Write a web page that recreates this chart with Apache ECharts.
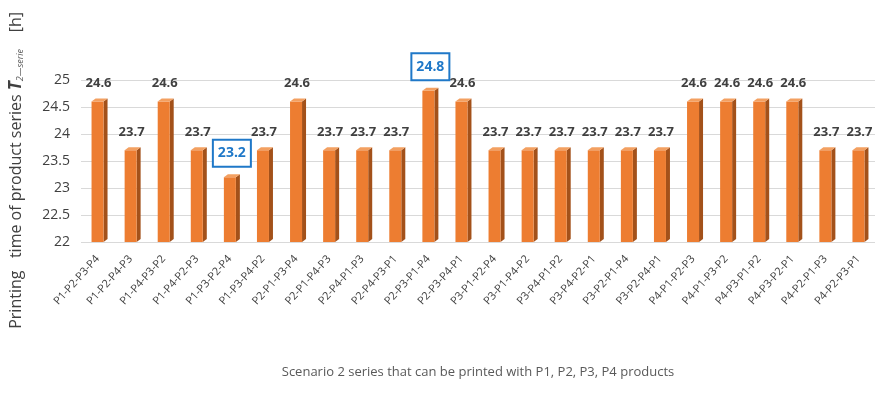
<!DOCTYPE html>
<html>
<head>
<meta charset="utf-8">
<script src="https://cdn.jsdelivr.net/npm/echarts@6/dist/echarts.min.js"></script>
<style>
  html, body { margin: 0; padding: 0; background: #fff; }
  #chart { width: 875px; height: 399px; }
</style>
</head>
<body>
<div id="chart"></div>
<script>
// series orders (x categories)
const categories = [
  'P1-P2-P3-P4', 'P1-P2-P4-P3', 'P1-P4-P3-P2', 'P1-P4-P2-P3', 'P1-P3-P2-P4', 'P1-P3-P4-P2',
  'P2-P1-P3-P4', 'P2-P1-P4-P3', 'P2-P4-P1-P3', 'P2-P4-P3-P1', 'P2-P3-P1-P4', 'P2-P3-P4-P1',
  'P3-P1-P2-P4', 'P3-P1-P4-P2', 'P3-P4-P1-P2', 'P3-P4-P2-P1', 'P3-P2-P1-P4', 'P3-P2-P4-P1',
  'P4-P1-P2-P3', 'P4-P1-P3-P2', 'P4-P3-P1-P2', 'P4-P3-P2-P1', 'P4-P2-P1-P3', 'P4-P2-P3-P1'
]

// printing time [h]
const printTimes = [
  24.6, 23.7, 24.6, 23.7, 23.2, 23.7,
  24.6, 23.7, 23.7, 23.7, 24.8, 24.6,
  23.7, 23.7, 23.7, 23.7, 23.7, 23.7,
  24.6, 24.6, 24.6, 24.6, 23.7, 23.7
]

const yMin = 22
const yMax = 25
const yStep = 0.5

const minVal = Math.min(...printTimes)
const maxVal = Math.max(...printTimes)

const textFont = '"Open Sans", "Noto Sans", sans-serif'

const chart = echarts.init(document.getElementById('chart'))

// 3D-looking column: front face, dark side, light top
const renderBar = (params, api) => {
  const idx = api.value(0)
  const val = api.value(1)
  const top = api.coord([idx, val])
  const base = api.coord([idx, yMin])
  const w = 12
  const dx = 4
  const dy = 3
  const x0 = top[0] - w / 2
  const x1 = x0 + w

  const isMark = val === minVal || val === maxVal
  const label = isMark
    ? {
        type: 'text',
        style: {
          text: val.toFixed(1),
          x: top[0] + 2,
          y: top[1] - 24,
          align: 'center',
          verticalAlign: 'middle',
          fill: '#1F78C8',
          font: 'bold 14px ' + textFont,
          backgroundColor: '#fff',
          borderColor: '#1F78C8',
          borderWidth: 2,
          padding: [6, 4, 5, 4]
        }
      }
    : {
        type: 'text',
        style: {
          text: val.toFixed(1),
          x: top[0] + 1,
          y: top[1] - 18,
          align: 'center',
          verticalAlign: 'middle',
          fill: '#404040',
          font: 'bold 13px ' + textFont
        }
      }

  return {
    type: 'group',
    children: [
      {
        type: 'polygon',
        shape: { points: [[x1, top[1]], [x1 + dx, top[1] - dy], [x1 + dx, base[1] - dy], [x1, base[1]]] },
        style: { fill: '#A3511A' }
      },
      {
        type: 'rect',
        shape: { x: x0, y: top[1], width: w, height: base[1] - top[1] },
        style: { fill: '#ED7D31' }
      },
      {
        type: 'polygon',
        shape: { points: [[x0, top[1]], [x0 + dx, top[1] - dy], [x1 + dx, top[1] - dy], [x1, top[1]]] },
        style: { fill: '#F3A061' }
      },
      label
    ]
  }
}

const option = {
  animation: false,
  backgroundColor: '#fff',
  grid: {
    left: 81,
    top: 80,
    width: 798,
    height: 162
  },
  xAxis: {
    type: 'category',
    data: categories,
    name: 'Scenario 2 series that can be printed with P1, P2, P3, P4 products',
    nameLocation: 'middle',
    nameGap: 124,
    nameTextStyle: {
      color: '#595959',
      fontSize: 13,
      fontFamily: textFont
    },
    axisLine: { show: false },
    axisTick: { show: false },
    axisLabel: {
      interval: 0,
      rotate: 48,
      margin: 15,
      color: '#404040',
      fontSize: 11,
      fontFamily: textFont
    }
  },
  yAxis: {
    type: 'value',
    min: yMin,
    max: yMax,
    interval: yStep,
    axisLine: { show: false },
    axisTick: { show: false },
    axisLabel: {
      margin: 11,
      color: '#404040',
      fontSize: 14,
      fontFamily: textFont
    },
    splitLine: {
      lineStyle: { color: '#D9D9D9', width: 1 }
    }
  },
  graphic: [
    {
      type: 'text',
      left: 8,
      top: 12,
      rotation: Math.PI / 2,
      style: {
        text: 'Printing   time of product series {it|T}{sub|2\u2014serie}    [h]',
        fill: '#404040',
        font: '16px ' + textFont,
        rich: {
          it: { fontStyle: 'italic', fontWeight: 'bold', fontSize: 17, fill: '#404040', fontFamily: textFont },
          sub: { fontStyle: 'italic', fontSize: 9, fill: '#595959', fontFamily: textFont, verticalAlign: 'bottom', padding: [7, 0, 0, 0] }
        }
      }
    }
  ],
  series: [
    {
      type: 'custom',
      renderItem: renderBar,
      encode: { x: 0, y: 1 },
      data: printTimes.map((v, i) => [i, v])
    }
  ]
}

chart.setOption(option)
</script>
</body>
</html>
